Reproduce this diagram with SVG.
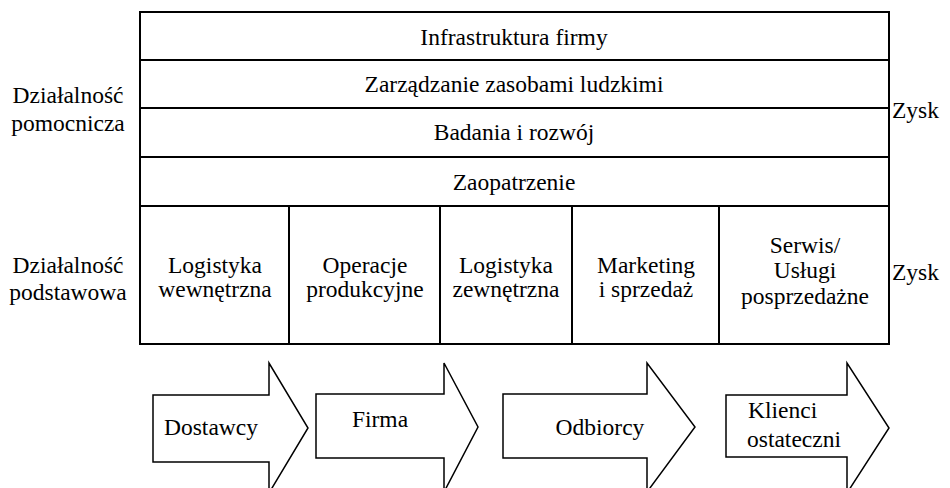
<svg xmlns="http://www.w3.org/2000/svg" width="950" height="488" viewBox="0 0 950 488">
<style>
.box{fill:#fff;stroke:#000;stroke-width:2}
.arr{fill:#fff;stroke:#000;stroke-width:1.5;stroke-linejoin:miter}
</style>
<rect width="950" height="488" fill="#fff"/>
<g font-family="'Liberation Serif', 'Times New Roman', serif" font-size="23.5" fill="#000">
<g id="labels">
<text text-anchor="middle" x="68" y="103">Działalność</text>
<text text-anchor="middle" x="68" y="131">pomocnicza</text>
<text text-anchor="middle" x="68" y="273">Działalność</text>
<text text-anchor="middle" x="68" y="300">podstawowa</text>
<text x="892" y="118">Zysk</text>
<text x="892" y="280">Zysk</text>
</g>
<g id="infrastruktura"><rect class="box" x="140" y="12" width="749" height="48"/><text text-anchor="middle" x="514" y="45">Infrastruktura firmy</text></g>
<g id="zarzadzanie"><rect class="box" x="140" y="60" width="749" height="48"/><text text-anchor="middle" x="514" y="92">Zarządzanie zasobami ludzkimi</text></g>
<g id="badania"><rect class="box" x="140" y="108" width="749" height="49"/><text text-anchor="middle" x="514" y="140">Badania i rozwój</text></g>
<g id="zaopatrzenie"><rect class="box" x="140" y="157" width="749" height="49"/><text text-anchor="middle" x="514" y="190">Zaopatrzenie</text></g>
<g id="logwew"><rect class="box" x="140" y="206" width="149" height="138"/><text text-anchor="middle" x="215" y="273">Logistyka</text><text text-anchor="middle" x="215" y="297">wewnętrzna</text></g>
<g id="operacje"><rect class="box" x="289" y="206" width="151" height="138"/><text text-anchor="middle" x="365" y="273">Operacje</text><text text-anchor="middle" x="365" y="297">produkcyjne</text></g>
<g id="logzew"><rect class="box" x="440" y="206" width="132" height="138"/><text text-anchor="middle" x="506" y="273">Logistyka</text><text text-anchor="middle" x="506" y="297">zewnętrzna</text></g>
<g id="marketing"><rect class="box" x="572" y="206" width="147" height="138"/><text text-anchor="middle" x="646" y="273">Marketing</text><text text-anchor="middle" x="646" y="297">i sprzedaż</text></g>
<g id="serwis"><rect class="box" x="719" y="206" width="170" height="138"/><text text-anchor="middle" x="805" y="253">Serwis/</text><text text-anchor="middle" x="805" y="278">Usługi</text><text text-anchor="middle" x="805" y="304">posprzedażne</text></g>
<g id="dostawcy"><polygon class="arr" points="153,395 269,395 269,363 308,428 269,493 269,462 153,462"/><text text-anchor="middle" x="211" y="435">Dostawcy</text></g>
<g id="firma"><polygon class="arr" points="316,394 444,394 444,363 478,427 444,492 444,458 316,458"/><text text-anchor="middle" x="380" y="427">Firma</text></g>
<g id="odbiorcy"><polygon class="arr" points="503,394 647,394 647,363 695,427 647,492 647,458 503,458"/><text text-anchor="middle" x="600" y="435">Odbiorcy</text></g>
<g id="klienci"><polygon class="arr" points="726,395 847,395 847,363 889,428 847,493 847,457 726,457"/><text x="748" y="418">Klienci</text><text x="747" y="447">ostateczni</text></g>
</g>
<g id="connectors"></g>
</svg>
